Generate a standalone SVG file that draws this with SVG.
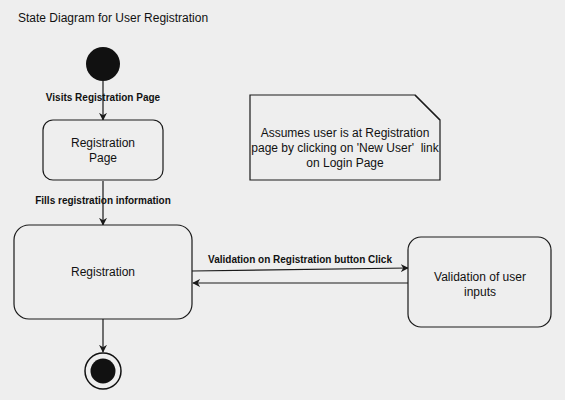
<svg xmlns="http://www.w3.org/2000/svg" width="565" height="400" viewBox="0 0 565 400">
<defs>
<style>
text{font-family:"Liberation Sans",Arial,sans-serif;fill:#111111;text-anchor:middle}
.t{font-size:12px}
.lbl{font-size:10px;font-weight:bold}
.box{fill:#eeeeee;stroke:#1a1a1a;stroke-width:1.2}
.edge{stroke:#1a1a1a;stroke-width:1.2;fill:none;marker-end:url(#arr)}
</style>
<marker id="arr" viewBox="0 0 10 10" refX="9" refY="5" markerWidth="8" markerHeight="8" markerUnits="userSpaceOnUse" orient="auto">
<path d="M0,0 L10,5 L0,10 L3,5 Z" fill="#1a1a1a"/>
</marker>
</defs>
<rect width="565" height="400" fill="#eeeeee"/>
<text x="18" y="22" class="t" style="text-anchor:start">State Diagram for User Registration</text>
<g id="connectors">
<line class="edge" x1="103" y1="81" x2="103" y2="120"/>
<line class="edge" x1="103" y1="181" x2="103" y2="225"/>
<line class="edge" x1="103" y1="319" x2="103" y2="352"/>
<line class="edge" x1="192" y1="271" x2="408" y2="268"/>
<line class="edge" x1="408" y1="283" x2="193" y2="283"/>
<text x="103" y="101" class="lbl">Visits Registration Page</text>
<text x="103" y="204" class="lbl">Fills registration information</text>
<text x="300" y="263" class="lbl">Validation on Registration button Click</text>
</g>
<g id="start"><circle cx="103" cy="64" r="17" fill="#111111"/></g>
<g id="regpage">
<rect class="box" x="43" y="120" width="120" height="60" rx="10"/>
<text x="103" y="147" class="t">Registration</text>
<text x="103" y="162" class="t">Page</text>
</g>
<g id="registration">
<rect class="box" x="14" y="225" width="178" height="94" rx="15"/>
<text x="103" y="276" class="t">Registration</text>
</g>
<g id="validation">
<rect class="box" x="408" y="237" width="143" height="90" rx="13"/>
<text x="480" y="281" class="t">Validation of user</text>
<text x="480" y="296" class="t">inputs</text>
</g>
<g id="end">
<circle cx="103" cy="371" r="18" fill="#eeeeee" stroke="#111111" stroke-width="1.5"/>
<circle cx="103" cy="371" r="12.5" fill="#111111"/>
</g>
<g id="note">
<path class="box" d="M250,95 H415 L440,120 V180 H250 Z"/>
<path d="M415,95 L440,120" stroke="#1a1a1a" stroke-width="1.2" fill="none"/>
<text x="345" y="137" class="t">Assumes user is at Registration</text>
<text x="345" y="152" class="t">page by clicking on 'New User'&#160; link</text>
<text x="345" y="167" class="t">on Login Page</text>
</g>
</svg>
